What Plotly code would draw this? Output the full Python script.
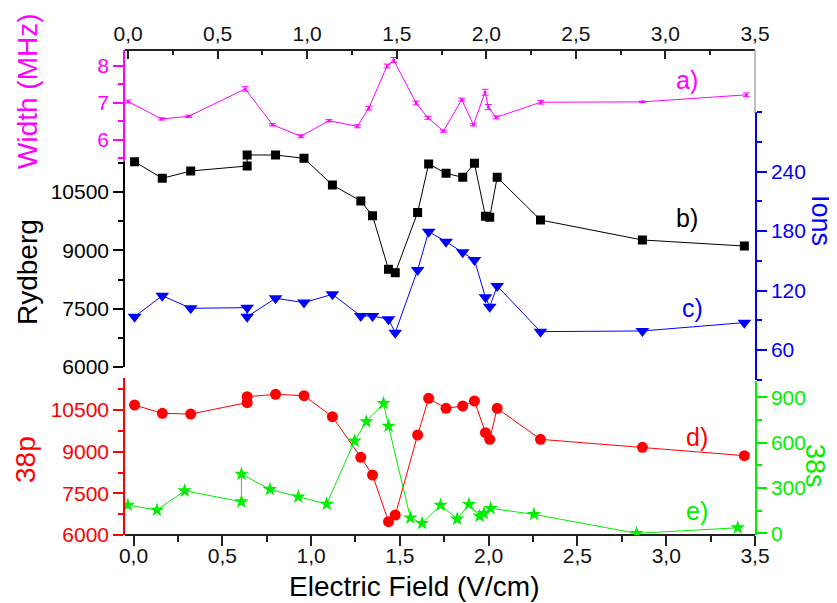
import plotly.graph_objects as go

# ---------------- data ----------------
field_a = [0.0, 0.187, 0.339, 0.654, 0.807, 0.965, 1.122, 1.28, 1.344, 1.446, 1.483, 1.608,
           1.674, 1.761, 1.863, 1.928, 1.993, 2.011, 2.054, 2.304, 2.872, 3.452]
width = [7.04, 6.57, 6.64, 7.38, 6.41, 6.10, 6.52, 6.37, 6.86, 8.0, 8.16, 7.0,
         6.6, 6.24, 7.09, 6.41, 7.29, 6.89, 6.61, 7.02, 7.03, 7.22]
width_err = [0.04, 0.03, 0.03, 0.06, 0.03, 0.04, 0.03, 0.04, 0.05, 0.05, 0.07, 0.05,
             0.04, 0.03, 0.04, 0.03, 0.08, 0.07, 0.04, 0.05, 0.02, 0.05]

field_bcd = [0.006, 0.162, 0.322, 0.640, 0.640, 0.80, 0.96, 1.12, 1.28, 1.346, 1.436, 1.474,
             1.60, 1.662, 1.76, 1.854, 1.92, 1.982, 2.006, 2.048, 2.292, 2.866, 3.44]
rydberg = [11282, 10855, 11043, 11172, 11455, 11455, 11370, 10683, 10271, 9893, 8514, 8426,
           9975, 11223, 10983, 10881, 11240, 9878, 9852, 10881, 9782, 9268, 9113]
ions = [93.6, 114.8, 102.1, 102.7, 93.6, 112.2, 107.8, 116.2, 94.3, 94.3, 91.0, 77.5,
        140.8, 179.4, 169.3, 158.6, 150.8, 113.2, 103.7, 124.6, 78.5, 79.2, 87.6]
p38 = [10680, 10380, 10356, 10764, 10980, 11064, 11016, 10260, 8796, 8160, 6480, 6720,
       9600, 10920, 10560, 10644, 10824, 9684, 9444, 10560, 9444, 9156, 8856]

field_e = [-0.032, 0.132, 0.288, 0.608, 0.608, 0.768, 0.928, 1.088, 1.245, 1.311, 1.408, 1.436,
           1.559, 1.625, 1.729, 1.823, 1.889, 1.949, 1.973, 2.011, 2.255, 2.833, 3.403]
s38 = [187, 154, 282, 209, 392, 291, 242, 194, 611, 739, 860, 710,
       103, 66, 187, 95, 192, 114, 132, 165, 126, 0, 37]

x_ticks = [0.0, 0.5, 1.0, 1.5, 2.0, 2.5, 3.0, 3.5]
width_ticks = [6, 7, 8]
rydberg_ticks = [6000, 7500, 9000, 10500]
ions_ticks = [60, 120, 180, 240]
p38_ticks = [6000, 7500, 9000, 10500]
s38_ticks = [0, 300, 600, 900]

panel_labels = ["a)", "b)", "c)", "d)", "e)"]

# ---------------- style ----------------
MAG = "#ff00ff"
BLK = "#000000"
BLU = "#0000ff"
RED = "#ff0000"
GRN = "#00ee00"
FONT = "Liberation Sans, Arial, sans-serif"
TICKF = 21
TITLEF = 28

fig = go.Figure()

fig.add_trace(go.Scatter(x=field_a, y=width, xaxis="x2", yaxis="y",
                         mode="lines+markers",
                         line=dict(color=MAG, width=1),
                         marker=dict(color=MAG, size=3),
                         error_y=dict(type="data", array=width_err, color=MAG,
                                      thickness=1, width=3.5)))
fig.add_trace(go.Scatter(x=field_bcd, y=rydberg, xaxis="x", yaxis="y2",
                         mode="lines+markers",
                         line=dict(color=BLK, width=1),
                         marker=dict(color=BLK, symbol="square", size=9)))
fig.add_trace(go.Scatter(x=field_bcd, y=ions, xaxis="x", yaxis="y3",
                         mode="lines+markers",
                         line=dict(color=BLU, width=1),
                         marker=dict(color=BLU, symbol="triangle-down", size=12)))
fig.add_trace(go.Scatter(x=field_bcd, y=p38, xaxis="x", yaxis="y4",
                         mode="lines+markers",
                         line=dict(color=RED, width=1),
                         marker=dict(color=RED, symbol="circle", size=11)))
fig.add_trace(go.Scatter(x=field_e, y=s38, xaxis="x", yaxis="y5",
                         mode="lines+markers",
                         line=dict(color=GRN, width=1),
                         marker=dict(color=GRN, symbol="star", size=11)))

# page body has an 8px margin; compensate so the plot area sits at page px 125..755 x 50..535
OFF = 8
W, H = 837 - OFF, 603 - OFF
L, R, T, B = 125 - OFF, 82, 50 - OFF, 68
PH = H - T - B
PW = W - L - R


def fy(py):
    return (535 - py) / PH


def fx(px):
    return (px - 125) / PW


def yax(color, rng, dom, tickvals, minor_dtick, side="left", fmt="d"):
    return dict(range=rng, domain=dom, anchor="x", side=side,
                showline=True, linecolor=color, linewidth=1.5,
                ticks="outside", ticklen=10, tickwidth=1.5, tickcolor=color,
                tickmode="array", tickvals=tickvals, tickformat=fmt,
                minor=dict(ticks="outside", ticklen=5, tickwidth=1.5, tickcolor=color,
                           tickmode="linear", dtick=minor_dtick, tick0=0, showgrid=False),
                tickfont=dict(color=color, size=TICKF, family=FONT),
                showgrid=False, zeroline=False)


fig.update_layout(
    width=W, height=H,
    margin=dict(l=L, r=R, t=T, b=B),
    paper_bgcolor="white", plot_bgcolor="rgba(0,0,0,0)",
    showlegend=False,
    separators=",.",
    font=dict(family=FONT),
    xaxis=dict(range=[-0.048, 3.5], domain=[0, 1], anchor="free", position=0,
               showline=True, linecolor="#222", linewidth=1.5,
               ticks="outside", ticklen=10, tickwidth=1.5, tickcolor="#222",
               tickmode="array", tickvals=x_ticks, tickformat=".1f",
               ticklabelstandoff=-8,
               minor=dict(ticks="outside", ticklen=6, tickwidth=1.5, tickcolor="#222",
                          tickmode="linear", dtick=0.25, tick0=0),
               tickfont=dict(color="#111", size=TICKF, family=FONT),
               showgrid=False, zeroline=False),
    xaxis2=dict(range=[-0.017, 3.5], overlaying="x", side="top", anchor="free", position=1,
                showline=True, linecolor="#222", linewidth=1.5,
                ticks="inside", ticklen=8, tickwidth=1.5, tickcolor="#222",
                tickmode="array", tickvals=x_ticks, tickformat=".1f",
                minor=dict(ticks="inside", ticklen=4, tickwidth=1.5, tickcolor="#222",
                           tickmode="linear", dtick=0.25, tick0=0),
                tickfont=dict(color="#111", size=TICKF, family=FONT),
                showgrid=False, zeroline=False),
    yaxis=yax(MAG, [5.405, 8.432], [fy(162), 1.0], width_ticks, 0.5, fmt=""),
    yaxis2=yax(BLK, [6000, 11900], [fy(367), fy(137.7)], rydberg_ticks, 750),
    yaxis3=yax(BLU, [30, 300], [fy(379.7), fy(112.2)], ions_ticks, 30, side="right"),
    yaxis4=yax(RED, [6000, 11652], [0, fy(378)], p38_ticks, 750),
    yaxis5=yax(GRN, [-11, 1008], [0, fy(381)], s38_ticks, 150, side="right"),
)

# light grey right frame of the top panel
fig.add_shape(type="line", xref="paper", yref="paper", x0=1, x1=1, y0=fy(113), y1=1,
              line=dict(color="#aaaaaa", width=1.5))

titles = [
    ("Width (MHz)", 27, 91, MAG, -90, TITLEF),
    ("Rydberg", 27, 272, BLK, -90, TITLEF),
    ("38p", 25, 460, RED, -90, TITLEF),
    ("Ions", 821, 220, BLU, 90, 27),
    ("38s", 815, 466, GRN, 90, 27),
    ("Electric Field (V/cm)", 414, 586, BLK, 0, TITLEF),
]
for text, px, py, col, ang, sz in titles:
    fig.add_annotation(text=text, x=fx(px), y=fy(py), xref="paper", yref="paper",
                       showarrow=False, textangle=ang, xanchor="center", yanchor="middle",
                       font=dict(color=col, size=sz, family=FONT))

label_pos = [(687, 80, MAG), (687, 218, BLK), (692, 308, BLU), (697, 437, RED), (697, 511, GRN)]
for text, (px, py, col) in zip(panel_labels, label_pos):
    fig.add_annotation(text=text, x=fx(px), y=fy(py), xref="paper", yref="paper",
                       showarrow=False, xanchor="center", yanchor="middle",
                       font=dict(color=col, size=25, family=FONT))

fig.write_html("out.html")
